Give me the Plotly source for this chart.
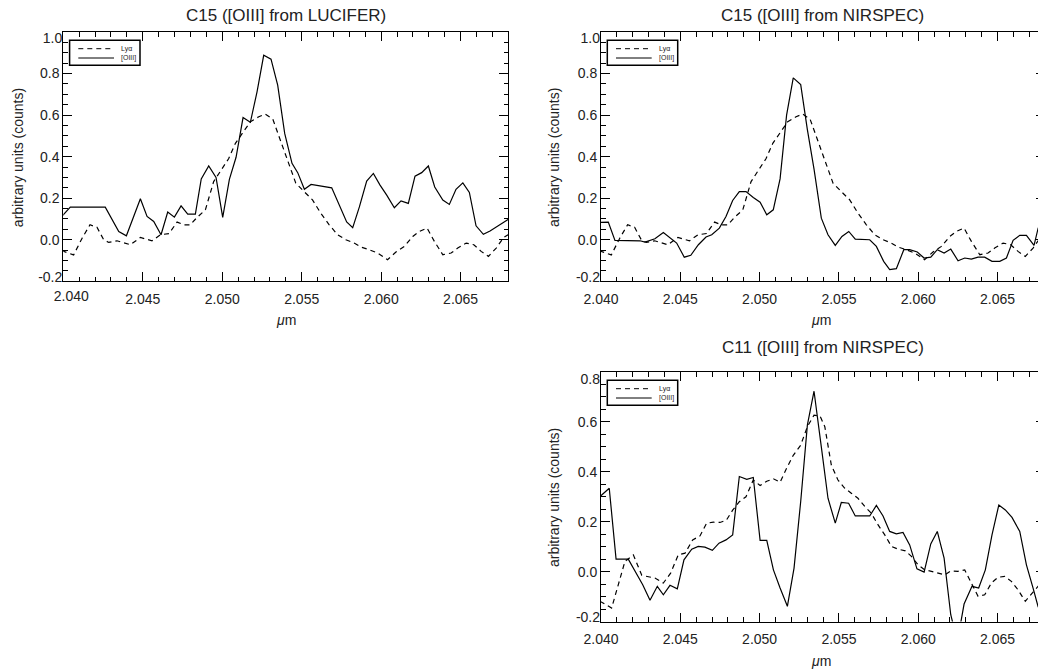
import plotly.graph_objects as go

# ---------------- data ----------------
# Ly-alpha profile of C15 (shared by both C15 panels)
lya_c15_wl = [2.0399, 2.04065, 2.0412, 2.04168, 2.04212, 2.04254, 2.04286, 2.04338, 2.04422, 2.04485,
              2.04558, 2.04611, 2.04665, 2.04716, 2.04758, 2.04799, 2.04841, 2.04894, 2.04946, 2.04999,
              2.0504, 2.05083, 2.05125, 2.05177, 2.0523, 2.05271, 2.05318, 2.05366, 2.0540, 2.05439,
              2.05463, 2.05515, 2.05568, 2.0562, 2.05673, 2.05726, 2.05778, 2.0583, 2.05873, 2.05925,
              2.05978, 2.0604, 2.06093, 2.06146, 2.06199, 2.0624, 2.06289, 2.06335, 2.06388, 2.0644,
              2.06482, 2.06535, 2.06583, 2.06629, 2.06675, 2.06724, 2.0677, 2.0681]
lya_c15_flux = [-0.053, -0.073, 0.010, 0.072, 0.060, 0.000, -0.013, -0.005, -0.024, 0.011,
                -0.005, 0.024, 0.030, 0.085, 0.072, 0.072, 0.107, 0.144, 0.280, 0.344,
                0.390, 0.464, 0.512, 0.568, 0.592, 0.605, 0.581, 0.480, 0.408, 0.324,
                0.272, 0.232, 0.192, 0.128, 0.072, 0.024, 0.000, -0.016, -0.035, -0.048,
                -0.064, -0.096, -0.059, -0.032, 0.016, 0.040, 0.056, -0.008, -0.072, -0.064,
                -0.040, -0.016, -0.024, -0.056, -0.080, -0.040, 0.010, 0.030]

# [OIII] of C15 from LUCIFER
oiii_luc_wl = [2.0399, 2.04044, 2.04264, 2.04349, 2.04397, 2.04485, 2.04527, 2.04569, 2.04615, 2.04657,
               2.04699, 2.04741, 2.04783, 2.04831, 2.04868, 2.04915, 2.04961, 2.05003, 2.05045, 2.05087,
               2.05131, 2.05177, 2.05219, 2.05261, 2.05307, 2.05349, 2.05393, 2.05439, 2.05475, 2.05517,
               2.05559, 2.05689, 2.05783, 2.05821, 2.05863, 2.05909, 2.05951, 2.05993, 2.06035, 2.06083,
               2.06125, 2.06171, 2.06213, 2.06255, 2.06297, 2.06337, 2.06388, 2.06429, 2.06471, 2.06514,
               2.06555, 2.06597, 2.06643, 2.06685, 2.06801]
oiii_luc_flux = [0.112, 0.157, 0.157, 0.040, 0.019, 0.197, 0.112, 0.088, 0.024, 0.133,
                 0.109, 0.163, 0.123, 0.123, 0.293, 0.355, 0.300, 0.108, 0.291, 0.397,
                 0.588, 0.565, 0.712, 0.888, 0.869, 0.744, 0.512, 0.368, 0.323, 0.243,
                 0.266, 0.250, 0.086, 0.058, 0.158, 0.282, 0.319, 0.263, 0.215, 0.154,
                 0.187, 0.175, 0.306, 0.323, 0.355, 0.254, 0.191, 0.170, 0.243, 0.274,
                 0.228, 0.067, 0.026, 0.042, 0.099]

# [OIII] of C15 from NIRSPEC
oiii_nir15_wl = [2.03994, 2.04046, 2.04088, 2.04246, 2.04277, 2.0434, 2.04393, 2.04477, 2.04525, 2.04566,
                 2.04614, 2.04662, 2.04698, 2.04746, 2.04788, 2.0483, 2.04872, 2.04914, 2.0496, 2.05003,
                 2.05045, 2.05086, 2.05129, 2.0517, 2.05212, 2.05259, 2.05301, 2.05343, 2.05389, 2.05431,
                 2.05477, 2.05519, 2.05562, 2.05603, 2.05694, 2.05736, 2.05782, 2.0582, 2.05862, 2.05909,
                 2.05946, 2.05994, 2.06037, 2.06079, 2.0612, 2.06163, 2.06205, 2.06251, 2.06293, 2.06335,
                 2.06377, 2.06419, 2.06465, 2.06514, 2.06556, 2.06598, 2.0664, 2.06682, 2.0673, 2.06756,
                 2.0680]
oiii_nir15_flux = [0.084, 0.085, -0.003, -0.005, -0.011, 0.005, 0.035, -0.016, -0.084, -0.075,
                   -0.024, 0.013, 0.024, 0.056, 0.112, 0.189, 0.232, 0.232, 0.203, 0.181,
                   0.120, 0.144, 0.293, 0.600, 0.779, 0.747, 0.530, 0.340, 0.104, 0.024,
                   -0.027, 0.016, 0.040, 0.003, 0.000, -0.032, -0.104, -0.144, -0.139, -0.048,
                   -0.048, -0.059, -0.088, -0.084, -0.048, -0.064, -0.045, -0.101, -0.088, -0.093,
                   -0.084, -0.084, -0.104, -0.104, -0.088, -0.003, 0.021, 0.021, -0.027, 0.056,
                   0.110]

# Ly-alpha profile of C11
lya_c11_wl = [2.03994, 2.04067, 2.04151, 2.04204, 2.04257, 2.04298, 2.0434, 2.04393, 2.04439, 2.04487,
              2.0453, 2.04578, 2.04624, 2.04666, 2.04708, 2.0475, 2.0479, 2.0483, 2.04872, 2.04914,
              2.0496, 2.05003, 2.05045, 2.05087, 2.05129, 2.0517, 2.05212, 2.05259, 2.05301, 2.05343,
              2.05381, 2.05411, 2.05452, 2.05494, 2.05537, 2.05578, 2.0562, 2.05663, 2.05704, 2.05747,
              2.05789, 2.05831, 2.05873, 2.05919, 2.05957, 2.05999, 2.06041, 2.06083, 2.06125, 2.06167,
              2.06205, 2.06251, 2.06293, 2.06335, 2.06377, 2.06419, 2.06461, 2.06503, 2.06545, 2.06587,
              2.06629, 2.06675, 2.06717, 2.06755, 2.0679]
lya_c11_flux = [-0.119, -0.146, 0.041, 0.067, -0.015, -0.019, -0.026, -0.046, -0.006, 0.067,
                0.074, 0.127, 0.143, 0.194, 0.198, 0.197, 0.206, 0.246, 0.280, 0.300,
                0.367, 0.345, 0.362, 0.372, 0.358, 0.414, 0.466, 0.507, 0.581, 0.627,
                0.623, 0.581, 0.427, 0.367, 0.334, 0.314, 0.294, 0.261, 0.234, 0.187,
                0.147, 0.101, 0.090, 0.083, 0.061, 0.027, 0.007, 0.001, -0.006, -0.013,
                0.003, 0.001, 0.007, -0.046, -0.099, -0.093, -0.046, -0.023, -0.019, -0.039,
                -0.073, -0.119, -0.086, -0.059, -0.040]

# [OIII] of C11 from NIRSPEC
oiii_nir11_wl = [2.03994, 2.04052, 2.04095, 2.04172, 2.04263, 2.04309, 2.04355, 2.04393, 2.04435, 2.04481,
                 2.04523, 2.04572, 2.04613, 2.04655, 2.04702, 2.04744, 2.04788, 2.0483, 2.04872, 2.04919,
                 2.0496, 2.05003, 2.05045, 2.05087, 2.05129, 2.05175, 2.05217, 2.05259, 2.05301, 2.05343,
                 2.05389, 2.05431, 2.05477, 2.05515, 2.05561, 2.05603, 2.05694, 2.05736, 2.05778, 2.0582,
                 2.05862, 2.05904, 2.05946, 2.05992, 2.06037, 2.06079, 2.0612, 2.06163, 2.06205, 2.06247,
                 2.06289, 2.06339, 2.06381, 2.06423, 2.06465, 2.06508, 2.06549, 2.06591, 2.0664, 2.06682,
                 2.06724, 2.06755, 2.0679]
oiii_nir11_flux = [0.301, 0.334, 0.050, 0.050, -0.053, -0.115, -0.059, -0.093, -0.055, -0.069,
                   0.047, 0.090, 0.101, 0.098, 0.085, 0.114, 0.127, 0.147, 0.381, 0.370,
                   0.377, 0.125, 0.125, 0.007, -0.066, -0.139, 0.014, 0.281, 0.587, 0.723,
                   0.500, 0.294, 0.194, 0.277, 0.274, 0.223, 0.223, 0.265, 0.223, 0.161,
                   0.151, 0.157, 0.107, 0.011, -0.002, 0.111, 0.161, 0.054, -0.173, -0.280,
                   -0.130, -0.059, -0.066, 0.007, 0.147, 0.267, 0.247, 0.217, 0.161, 0.027,
                   -0.066, -0.139, -0.190]

x_tick_vals = [2.040, 2.045, 2.050, 2.055, 2.060, 2.065]
x_tick_text = ["2.040", "2.045", "2.050", "2.055", "2.060", "2.065"]
y_tick_vals_c15 = [-0.2, 0.0, 0.2, 0.4, 0.6, 0.8, 1.0]
y_tick_text_c15 = ["-0.2", "0.0", "0.2", "0.4", "0.6", "0.8", "1.0"]
y_tick_vals_c11 = [-0.2, 0.0, 0.2, 0.4, 0.6, 0.8]
y_tick_text_c11 = ["-0.2", "0.0", "0.2", "0.4", "0.6", "0.8"]

titles = ["C15 ([OIII] from LUCIFER)", "C15 ([OIII] from NIRSPEC)", "C11 ([OIII] from NIRSPEC)"]
legend_labels = ["Ly\u03b1", "[OIII]"]
x_title = "<i>\u03bc</i>m"
y_title = "arbitrary units (counts)"

# ---------------- layout helpers ----------------
W, H = 1038, 672
FONT = "Liberation Sans, Arial, Helvetica, sans-serif"
INK = "#222222"
TICKFONT = dict(size=14, color=INK, family=FONT)


def fx(p):
    return p / W


def fy(p):
    return 1 - p / H


# end_shift: pixel nudges (screen direction, + = down) for the lowest / highest y label
panels = [
    dict(ax="", L=63.3, R=508.3, T=32.0, B=281.3, xr=[2.040, 2.068], yr=[-0.2, 1.0],
         yv=y_tick_vals_c15, yt=y_tick_text_c15, title=titles[0], tcx=286.0, tcy=15.0,
         lya=(lya_c15_wl, lya_c15_flux), oiii=(oiii_luc_wl, oiii_luc_flux),
         ytx=17.5, xtx=285.8, full_right=True, shift_first_x=8, end_shift=(-4, 6)),
    dict(ax="2", L=601.0, R=1038.0, T=32.0, B=281.3, xr=[2.040, 2.06755], yr=[-0.2, 1.0],
         yv=y_tick_vals_c15, yt=y_tick_text_c15, title=titles[1], tcx=822.7, tcy=15.0,
         lya=(lya_c15_wl, lya_c15_flux), oiii=(oiii_nir15_wl, oiii_nir15_flux),
         ytx=553.3, xtx=820.5, full_right=False, shift_first_x=0, end_shift=(-4, 6)),
    dict(ax="3", L=601.0, R=1038.0, T=372.0, B=621.5, xr=[2.040, 2.06755], yr=[-0.2, 0.8],
         yv=y_tick_vals_c11, yt=y_tick_text_c11, title=titles[2], tcx=822.7, tcy=347.3,
         lya=(lya_c11_wl, lya_c11_flux), oiii=(oiii_nir11_wl, oiii_nir11_flux),
         ytx=553.3, xtx=820.5, full_right=False, shift_first_x=0, end_shift=(-4, 7)),
]

fig = go.Figure()
shapes = []
annotations = []
layout = dict(template="none", width=W, height=H, autosize=False,
              margin=dict(l=0, r=0, t=0, b=0, pad=0),
              paper_bgcolor="white", plot_bgcolor="white", showlegend=False,
              font=dict(family=FONT, color=INK, size=14))

x_minor = dict(tickmode="linear", tick0=2.040, dtick=0.001, ticks="inside",
               ticklen=4.5, tickwidth=1, tickcolor="black", showgrid=False)
y_minor = dict(tickmode="linear", tick0=-0.2, dtick=0.05, ticks="inside",
               ticklen=4.5, tickwidth=1, tickcolor="black", showgrid=False)
tick_style = dict(ticks="inside", ticklen=9, tickwidth=1, tickcolor="black",
                  showgrid=False, zeroline=False, automargin=False)

x_count = [4]
y_count = [4]


def extra_x(spec, ya):
    name = "x%d" % x_count[0]
    x_count[0] += 1
    layout["xaxis" + name[1:]] = spec
    fig.add_trace(go.Scatter(x=[], y=[], xaxis=name, yaxis=ya, showlegend=False, hoverinfo="skip"))
    return name


def extra_y(spec, xa):
    name = "y%d" % y_count[0]
    y_count[0] += 1
    layout["yaxis" + name[1:]] = spec
    fig.add_trace(go.Scatter(x=[], y=[], xaxis=xa, yaxis=name, showlegend=False, hoverinfo="skip"))
    return name


for p in panels:
    xa, ya = "x" + p["ax"], "y" + p["ax"]
    fig.add_trace(go.Scatter(x=p["lya"][0], y=p["lya"][1], mode="lines", name=legend_labels[0],
                             line=dict(color="black", width=1.2, dash="5px,4px"),
                             xaxis=xa, yaxis=ya))
    fig.add_trace(go.Scatter(x=p["oiii"][0], y=p["oiii"][1], mode="lines", name=legend_labels[1],
                             line=dict(color="black", width=1.2),
                             xaxis=xa, yaxis=ya))

    # main bottom / left axes (end labels handled by shifted overlays below)
    xt = list(x_tick_text)
    if p["shift_first_x"]:
        xt[0] = ""
    yt = [""] + list(p["yt"][1:-1]) + [""]
    layout["xaxis" + p["ax"]] = dict(
        domain=[fx(p["L"]), fx(p["R"])], range=p["xr"], anchor=ya,
        tickmode="array", tickvals=x_tick_vals, ticktext=xt,
        showline=True, linecolor="black", linewidth=1, mirror=False,
        ticklabelstandoff=5, tickfont=TICKFONT, minor=x_minor, **tick_style)
    layout["yaxis" + p["ax"]] = dict(
        domain=[fy(p["B"]), fy(p["T"])], range=p["yr"], anchor=xa,
        tickmode="array", tickvals=p["yv"], ticktext=yt,
        showline=True, linecolor="black", linewidth=1, mirror=False,
        tickfont=TICKFONT, minor=y_minor, **tick_style)

    # top axis with inward ticks
    extra_x(dict(overlaying=xa, side="top", anchor=ya, range=p["xr"],
                 tickmode="array", tickvals=x_tick_vals, showticklabels=False,
                 showline=True, linecolor="black", linewidth=1, minor=x_minor, **tick_style), ya)

    # right axis: full frame for the left panel, only the tick stubs at the clipped edge otherwise
    if p["full_right"]:
        extra_y(dict(overlaying=ya, side="right", anchor=xa, range=p["yr"],
                     tickmode="array", tickvals=p["yv"], showticklabels=False,
                     showline=True, linecolor="black", linewidth=1, minor=y_minor, **tick_style), xa)
    else:
        extra_y(dict(overlaying=ya, side="right", anchor=xa, range=p["yr"],
                     tickmode="array", tickvals=p["yv"], showticklabels=False,
                     showline=False, ticks="inside", ticklen=2, tickwidth=1, tickcolor="black",
                     showgrid=False, zeroline=False, automargin=False), xa)

    # end labels of the y scale sit slightly inside the frame
    for val, txt, shift in [(p["yv"][0], p["yt"][0], p["end_shift"][0]),
                            (p["yv"][-1], p["yt"][-1], p["end_shift"][1])]:
        extra_y(dict(overlaying=ya, side="left", anchor=xa, range=p["yr"],
                     tickmode="array", tickvals=[val], ticktext=[txt], ticks="",
                     showline=False, showgrid=False, zeroline=False, automargin=False,
                     ticklabelshift=shift, tickfont=TICKFONT), xa)
    if p["shift_first_x"]:
        extra_x(dict(overlaying=xa, side="bottom", anchor=ya, range=p["xr"],
                     tickmode="array", tickvals=[x_tick_vals[0]], ticktext=[x_tick_text[0]],
                     ticks="", showline=False, showgrid=False, zeroline=False, automargin=False,
                     ticklabelstandoff=5, ticklabelshift=p["shift_first_x"], tickfont=TICKFONT), ya)

    # panel title
    annotations.append(dict(text=p["title"], xref="paper", yref="paper", x=fx(p["tcx"]),
                            y=fy(p["tcy"]), xanchor="center", yanchor="middle",
                            showarrow=False, font=dict(size=17, color=INK, family=FONT)))
    # axis titles
    annotations.append(dict(text=x_title, xref="paper", yref="paper", x=fx(p["xtx"]),
                            y=fy(p["B"] + 39.0), xanchor="center", yanchor="middle",
                            showarrow=False, font=dict(size=14, color=INK, family=FONT)))
    annotations.append(dict(text=y_title, xref="paper", yref="paper", x=fx(p["ytx"]),
                            y=fy((p["T"] + p["B"]) / 2 + 1), xanchor="center", yanchor="middle",
                            textangle=-90, showarrow=False, font=dict(size=14, color=INK, family=FONT)))

    # inset key: framed box with a dashed and a solid sample line
    L, T = p["L"], p["T"]
    shapes.append(dict(type="rect", xref="paper", yref="paper",
                       x0=fx(L + 6.3), x1=fx(L + 76.7), y0=fy(T + 33.3), y1=fy(T + 8.3),
                       line=dict(color="black", width=1.5), fillcolor="white"))
    shapes.append(dict(type="line", xref="paper", yref="paper",
                       x0=fx(L + 15), x1=fx(L + 49), y0=fy(T + 16.7), y1=fy(T + 16.7),
                       line=dict(color="black", width=1, dash="5px,4px")))
    shapes.append(dict(type="line", xref="paper", yref="paper",
                       x0=fx(L + 15), x1=fx(L + 50.7), y0=fy(T + 26), y1=fy(T + 26),
                       line=dict(color="black", width=1)))
    for lbl, yy in zip(legend_labels, [T + 16.5, T + 26]):
        annotations.append(dict(text=lbl, xref="paper", yref="paper", x=fx(L + 55.5), y=fy(yy),
                                xanchor="left", yanchor="middle", showarrow=False,
                                font=dict(size=7, color=INK, family=FONT)))

layout["shapes"] = shapes
layout["annotations"] = annotations
fig.update_layout(**layout)

fig.write_html("out.html")
